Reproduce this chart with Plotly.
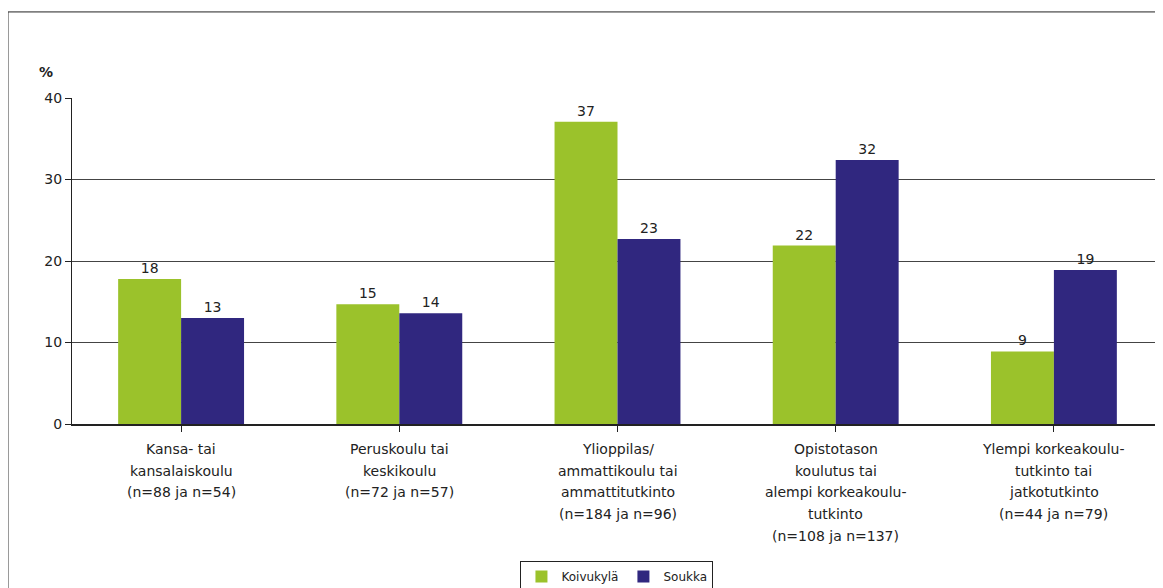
import plotly.graph_objects as go

categories = [
    "Kansa- tai<br>kansalaiskoulu<br>(n=88 ja n=54)",
    "Peruskoulu tai<br>keskikoulu<br>(n=72 ja n=57)",
    "Ylioppilas/<br>ammattikoulu tai<br>ammattitutkinto<br>(n=184 ja n=96)",
    "Opistotason<br>koulutus tai<br>alempi korkeakoulu-<br>tutkinto<br>(n=108 ja n=137)",
    "Ylempi korkeakoulu-<br>tutkinto tai<br>jatkotutkinto<br>(n=44 ja n=79)",
]
koivukyla = [17.8, 14.7, 37.1, 21.9, 8.9]
soukka = [13.0, 13.6, 22.7, 32.4, 18.9]
y_ticks = [0, 10, 20, 30, 40]

FONT = "DejaVu Sans"
GREEN = "#9bc22b"
NAVY = "#30277f"

fig = go.Figure()
fig.add_trace(go.Bar(
    x=list(range(len(categories))), y=koivukyla, name="Koivukylä",
    marker=dict(color=GREEN, line=dict(width=0)),
    texttemplate="%{y:.0f}", textposition="outside",
    textfont=dict(family=FONT, size=14, color="#222"), cliponaxis=False,
))
fig.add_trace(go.Bar(
    x=list(range(len(categories))), y=soukka, name="Soukka",
    marker=dict(color=NAVY, line=dict(width=0)),
    texttemplate="%{y:.0f}", textposition="outside",
    textfont=dict(family=FONT, size=14, color="#222"), cliponaxis=False,
))

# category labels, one annotation per line
for i, lab in enumerate(categories):
    for j, line in enumerate(lab.split("<br>")):
        fig.add_annotation(
            x=i, y=0, xref="x", yref="paper", text=line, showarrow=False,
            yanchor="middle", xanchor="center", yshift=-(25 + j * 21.7),
            font=dict(family=FONT, size=14, color="#222"),
        )

fig.add_annotation(
    x=-0.024, y=1.08, xref="paper", yref="paper", text="<b>%</b>",
    showarrow=False, xanchor="center", yanchor="middle",
    font=dict(family=FONT, size=14, color="#222"),
)

# outer frame
fig.add_shape(type="rect", xref="paper", yref="paper",
              x0=-0.0587, x1=1.2, y0=-1.0, y1=1.264,
              line=dict(color="#222", width=1), layer="below")

fig.update_layout(
    width=1155, height=580,
    margin=dict(l=64, r=0, t=90, b=164, autoexpand=False),
    paper_bgcolor="white", plot_bgcolor="white",
    barmode="group", bargap=0.423, bargroupgap=0,
    showlegend=True,
    legend=dict(
        orientation="h", x=0.4995, xanchor="center", y=-0.42, yanchor="top",
        bordercolor="#222", borderwidth=1,
        font=dict(family=FONT, size=12, color="#222"),
        itemwidth=30, tracegroupgap=0,
    ),
    font=dict(family=FONT, size=14, color="#222"),
    xaxis=dict(
        range=[-0.5, len(categories) - 0.5],
        tickmode="array", tickvals=list(range(len(categories))),
        showticklabels=False, tickson="boundaries",
        ticks="outside", ticklen=6, tickcolor="#222",
        showline=True, linecolor="#222", linewidth=1.5,
        showgrid=False, zeroline=False,
    ),
    yaxis=dict(
        range=[0, 40], tickmode="array", tickvals=y_ticks,
        ticktext=[str(v) for v in y_ticks],
        ticks="outside", ticklen=6, tickcolor="#222",
        showline=True, linecolor="#222", linewidth=1,
        showgrid=True, gridcolor="#444", gridwidth=1.2,
        zeroline=False,
        tickfont=dict(family=FONT, size=14, color="#222"),
    ),
)

fig.write_html("out.html")
